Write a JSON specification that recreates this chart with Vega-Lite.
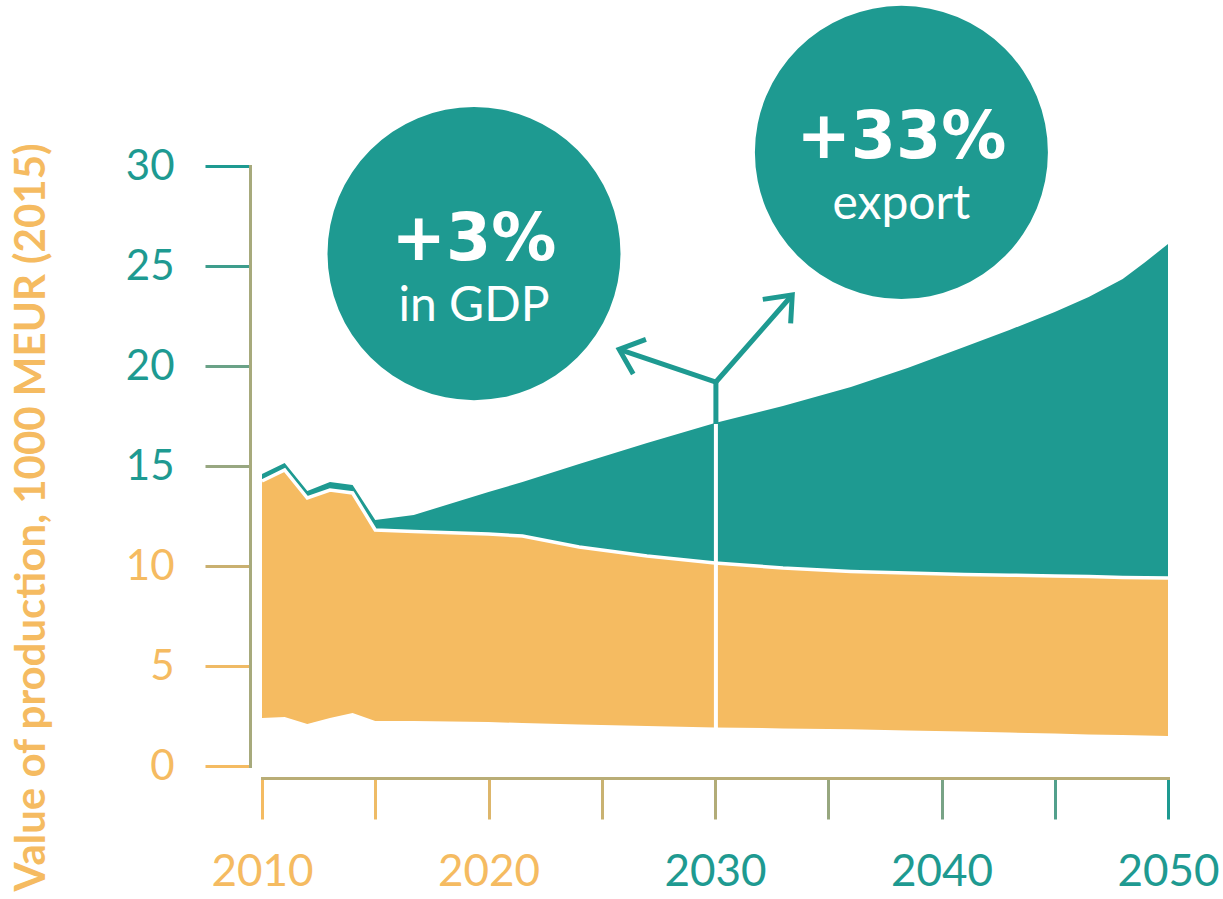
{
  "$schema": "https://vega.github.io/schema/vega-lite/v6.json",
  "width": 906,
  "height": 600,
  "autosize": {"type": "none"},
  "padding": {"left": 262, "top": 166, "right": 55, "bottom": 133},
  "background": "#ffffff",
  "config": {"view": {"stroke": null}},
  "datasets": {
    "series": [
      {"year": 2010, "low": 2.4, "mid": 14.25, "total": 14.6},
      {"year": 2011, "low": 2.45, "mid": 14.8, "total": 15.15},
      {"year": 2012, "low": 2.1, "mid": 13.4, "total": 13.75},
      {"year": 2013, "low": 2.4, "mid": 13.8, "total": 14.2},
      {"year": 2014, "low": 2.65, "mid": 13.65, "total": 14.05},
      {"year": 2015, "low": 2.25, "mid": 11.8, "total": 12.3},
      {"year": 2016.7, "low": 2.25, "mid": 11.72, "total": 12.55},
      {"year": 2020, "low": 2.2, "mid": 11.6, "total": 13.7},
      {"year": 2021.5, "low": 2.15, "mid": 11.5, "total": 14.2},
      {"year": 2024, "low": 2.08, "mid": 10.95, "total": 15.1},
      {"year": 2027, "low": 2.0, "mid": 10.5, "total": 16.15},
      {"year": 2030, "low": 1.93, "mid": 10.15, "total": 17.15},
      {"year": 2033, "low": 1.88, "mid": 9.9, "total": 18.0},
      {"year": 2036, "low": 1.84, "mid": 9.73, "total": 18.95},
      {"year": 2038.5, "low": 1.78, "mid": 9.65, "total": 19.9},
      {"year": 2041, "low": 1.72, "mid": 9.58, "total": 20.95},
      {"year": 2043, "low": 1.67, "mid": 9.54, "total": 21.8},
      {"year": 2045, "low": 1.62, "mid": 9.5, "total": 22.7},
      {"year": 2046.5, "low": 1.58, "mid": 9.47, "total": 23.45},
      {"year": 2048, "low": 1.55, "mid": 9.43, "total": 24.35},
      {"year": 2049, "low": 1.52, "mid": 9.41, "total": 25.2},
      {"year": 2050, "low": 1.5, "mid": 9.4, "total": 26.1}
    ],
    "arrows": [
      {"path": "Y", "i": 0, "year": 2025.77, "value": 20.83, "kind": "teal"},
      {"path": "Y", "i": 1, "year": 2030.04, "value": 19.2, "kind": "teal"},
      {"path": "Y", "i": 2, "year": 2033.41, "value": 23.55, "kind": "teal"},
      {"path": "headL", "i": 0, "year": 2026.95, "value": 21.33, "kind": "teal"},
      {"path": "headL", "i": 1, "year": 2025.77, "value": 20.83, "kind": "teal"},
      {"path": "headL", "i": 2, "year": 2026.39, "value": 19.6, "kind": "teal"},
      {"path": "headR", "i": 0, "year": 2032.11, "value": 23.33, "kind": "teal"},
      {"path": "headR", "i": 1, "year": 2033.41, "value": 23.55, "kind": "teal"},
      {"path": "headR", "i": 2, "year": 2033.34, "value": 22.13, "kind": "teal"},
      {"path": "stem", "i": 0, "year": 2030.04, "value": 19.2, "kind": "teal"},
      {"path": "stem", "i": 1, "year": 2030.04, "value": 17.1, "kind": "teal"},
      {"path": "white", "i": 0, "year": 2030.04, "value": 17.2, "kind": "white"},
      {"path": "white", "i": 1, "year": 2030.04, "value": 1.9, "kind": "white"}
    ],
    "bubbles": [
      {"year": 2019.36, "value": 25.62, "big": "+3%", "small": "in GDP"},
      {"year": 2038.23, "value": 30.68, "big": "+33%", "small": "export"}
    ]
  },
  "layer": [
    {
      "data": {"name": "series"},
      "mark": {"type": "area", "color": "#f5bb61", "clip": false},
      "encoding": {
        "x": {
          "field": "year", "type": "quantitative",
          "scale": {"domain": [2010, 2050], "nice": false, "zero": false},
          "axis": {
            "orient": "bottom", "offset": 12, "title": null, "grid": false,
            "values": [2010, 2015, 2020, 2025, 2030, 2035, 2040, 2045, 2050],
            "labelExpr": "datum.value % 10 == 0 ? format(datum.value, 'd') : ''",
            "domainWidth": 3, "domainCap": "square", "tickWidth": 3, "tickSize": 41,
            "domainColor": "#b9ad76",
            "labelFont": "Lato", "labelFontSize": 44, "labelBaseline": "alphabetic",
            "labelPadding": 66, "labelFlush": false, "labelOverlap": false,
            "labelColor": {"condition": {"test": "datum.value >= 2030", "value": "#1e9a91"}, "value": "#f5bb61"},
            "tickColor": {
              "condition": [
                {"test": "datum.value <= 2010", "value": "#f4bb62"},
                {"test": "datum.value <= 2015", "value": "#eebb66"},
                {"test": "datum.value <= 2020", "value": "#ddb66b"},
                {"test": "datum.value <= 2025", "value": "#c9b271"},
                {"test": "datum.value <= 2030", "value": "#b2ac78"},
                {"test": "datum.value <= 2035", "value": "#97a77f"},
                {"test": "datum.value <= 2040", "value": "#78a386"},
                {"test": "datum.value <= 2045", "value": "#52a08c"}
              ],
              "value": "#1e9a91"
            }
          }
        },
        "y": {
          "field": "low", "type": "quantitative",
          "scale": {"domain": [0, 30], "nice": false},
          "axis": {
            "orient": "left", "offset": 12, "grid": false,
            "values": [0, 5, 10, 15, 20, 25, 30],
            "format": "d",
            "domainWidth": 3, "domainCap": "square", "tickWidth": 3, "tickSize": 45,
            "domainColor": "#a7aa7c",
            "labelFont": "Lato", "labelFontSize": 42, "labelPadding": 31,
            "labelColor": {"condition": {"test": "datum.value >= 15", "value": "#1e9a91"}, "value": "#f5bb61"},
            "tickColor": {
              "condition": [
                {"test": "datum.value <= 0", "value": "#f4bb62"},
                {"test": "datum.value <= 5", "value": "#efba65"},
                {"test": "datum.value <= 10", "value": "#c9b070"},
                {"test": "datum.value <= 15", "value": "#98a781"},
                {"test": "datum.value <= 20", "value": "#6aa287"},
                {"test": "datum.value <= 25", "value": "#3e9d8c"}
              ],
              "value": "#1e9a91"
            },
            "title": "Value of production, 1000 MEUR (2015)",
            "titleFont": "Lato", "titleFontWeight": "bold", "titleFontSize": 42,
            "titleColor": "#f5bb61", "titleAngle": 270, "titleAlign": "center",
            "titleBaseline": "alphabetic", "titleX": -206, "titleY": 351
          }
        },
        "y2": {"field": "mid"}
      }
    },
    {
      "data": {"name": "series"},
      "mark": {"type": "area", "color": "#1e9a91", "clip": false},
      "encoding": {
        "x": {"field": "year", "type": "quantitative"},
        "y": {"field": "mid", "type": "quantitative"},
        "y2": {"field": "total"}
      }
    },
    {
      "data": {"name": "series"},
      "mark": {"type": "line", "color": "#ffffff", "strokeWidth": 3.5, "clip": false},
      "encoding": {
        "x": {"field": "year", "type": "quantitative"},
        "y": {"field": "mid", "type": "quantitative"}
      }
    },
    {
      "data": {"name": "arrows"},
      "transform": [{"filter": "datum.kind == 'white'"}],
      "mark": {"type": "line", "color": "#ffffff", "strokeWidth": 4, "strokeCap": "butt", "clip": false},
      "encoding": {
        "x": {"field": "year", "type": "quantitative"},
        "y": {"field": "value", "type": "quantitative"},
        "detail": {"field": "path"},
        "order": {"field": "i"}
      }
    },
    {
      "data": {"name": "arrows"},
      "transform": [{"filter": "datum.kind == 'teal'"}],
      "mark": {"type": "line", "color": "#1e9a91", "strokeWidth": 5, "strokeCap": "butt", "strokeJoin": "miter", "clip": false},
      "encoding": {
        "x": {"field": "year", "type": "quantitative"},
        "y": {"field": "value", "type": "quantitative"},
        "detail": {"field": "path"},
        "order": {"field": "i"}
      }
    },
    {
      "data": {"name": "bubbles"},
      "mark": {"type": "point", "shape": "circle", "filled": true, "size": 85849, "color": "#1e9a91", "opacity": 1, "clip": false},
      "encoding": {
        "x": {"field": "year", "type": "quantitative"},
        "y": {"field": "value", "type": "quantitative"}
      }
    },
    {
      "data": {"name": "bubbles"},
      "mark": {"type": "text", "font": "DejaVu Sans", "fontWeight": "bold", "fontSize": 65, "color": "#ffffff", "align": "center", "baseline": "alphabetic", "dy": 6, "clip": false},
      "encoding": {
        "x": {"field": "year", "type": "quantitative"},
        "y": {"field": "value", "type": "quantitative"},
        "text": {"field": "big"}
      }
    },
    {
      "data": {"name": "bubbles"},
      "mark": {"type": "text", "font": "Lato", "fontSize": 48, "color": "#ffffff", "align": "center", "baseline": "alphabetic", "dy": 67, "clip": false},
      "encoding": {
        "x": {"field": "year", "type": "quantitative"},
        "y": {"field": "value", "type": "quantitative"},
        "text": {"field": "small"}
      }
    }
  ]
}
